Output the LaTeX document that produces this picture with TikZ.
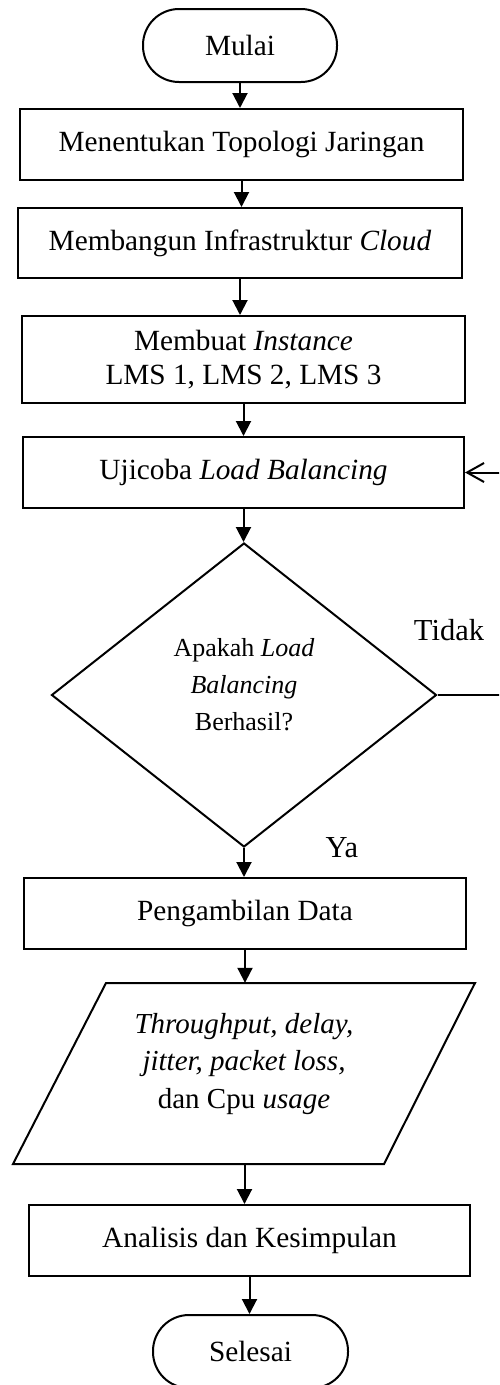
\documentclass[tikz,border=0pt]{standalone}
\usepackage{fontspec}
\setmainfont{Liberation Serif}
\usetikzlibrary{arrows.meta,shapes.geometric}
\newcommand\mainfs{\fontsize{29.3}{34}\selectfont}
\newcommand\lblfs{\fontsize{30.5}{34}\selectfont}
\newcommand\dfs{\fontsize{26}{37}\selectfont}
\newcommand\pfs{\fontsize{29}{37.5}\selectfont}
\begin{document}
\begin{tikzpicture}[x=1pt,y=-1pt,
  line/.style={line width=2pt},
  arr/.style={line, -{Triangle[width=15pt,length=15pt]}},
  box/.style={draw, line width=2pt, rectangle, inner sep=0pt, align=center, font=\mainfs},
  term/.style={box, rounded corners=36pt},
  lbl/.style={font=\lblfs, inner sep=0pt}]
\useasboundingbox (0,0) rectangle (499,1385);
\clip (0,0) rectangle (499,1385);
\node[term, minimum width=194pt, minimum height=73pt] (mulai) at (240,45.5) {Mulai};
\node[box, minimum width=443pt, minimum height=71pt] (b1) at (241.5,144.5) {Menentukan Topologi Jaringan};
\node[box, minimum width=444pt, minimum height=70pt] (b2) at (240,243) {Membangun Infrastruktur \textit{Cloud}};
\node[box, minimum width=443pt, minimum height=87pt] (b3) at (243.5,359.5) {Membuat \textit{Instance}\\LMS 1, LMS 2, LMS 3};
\node[box, minimum width=441pt, minimum height=71pt] (b4) at (243.5,472.5) {Ujicoba \textit{Load Balancing}};
\node[draw, diamond, line width=2pt, minimum width=385pt, minimum height=304pt, inner sep=0pt] (dec) at (244,695) {};
\node[align=center, font=\dfs, inner sep=0pt] (dect) at (244,685) {Apakah \textit{Load}\\\textit{Balancing}\\Berhasil?};
\node[box, minimum width=442pt, minimum height=71pt] (b5) at (245,913.5) {Pengambilan Data};
\node[minimum width=369pt, minimum height=181pt, inner sep=0pt] (par) at (244.5,1073.5) {};
\draw[line] (106,983) -- (475,983) -- (384,1164) -- (13,1164) -- cycle;
\node[align=center, font=\pfs, inner sep=0pt] (part) at (244,1064) {\textit{Throughput, delay,}\\\textit{jitter, packet loss,}\\dan Cpu \textit{usage}};
\node[box, minimum width=441pt, minimum height=71pt] (b6) at (249.5,1240.5) {Analisis dan Kesimpulan};
\node[term, minimum width=195pt, minimum height=73pt] (sel) at (250.5,1351.5) {Selesai};
\node[lbl] (tidak) at (449,630) {Tidak};
\node[lbl] (ya) at (342,848) {Ya};
\draw[arr] (mulai.south) -- (mulai.south |- b1.north);
\draw[arr] (b1.south) -- (b1.south |- b2.north);
\draw[arr] (b2.south) -- (b2.south |- b3.north);
\draw[arr] (b3.south) -- (b3.south |- b4.north);
\draw[arr] (b4.south) -- (b4.south |- dec.north);
\draw[arr] (dec.south) -- (dec.south |- b5.north);
\draw[arr] (b5.south) -- (b5.south |- par.north);
\draw[arr] (par.south) -- (par.south |- b6.north);
\draw[arr] (b6.south) -- (b6.south |- sel.north);
\coordinate (lpr) at (506,0);
\draw[line, -{Straight Barb[length=17pt,width=19pt]}] (dec.east) -- (dec.east -| lpr) |- (b4.east);
\end{tikzpicture}
\end{document}
